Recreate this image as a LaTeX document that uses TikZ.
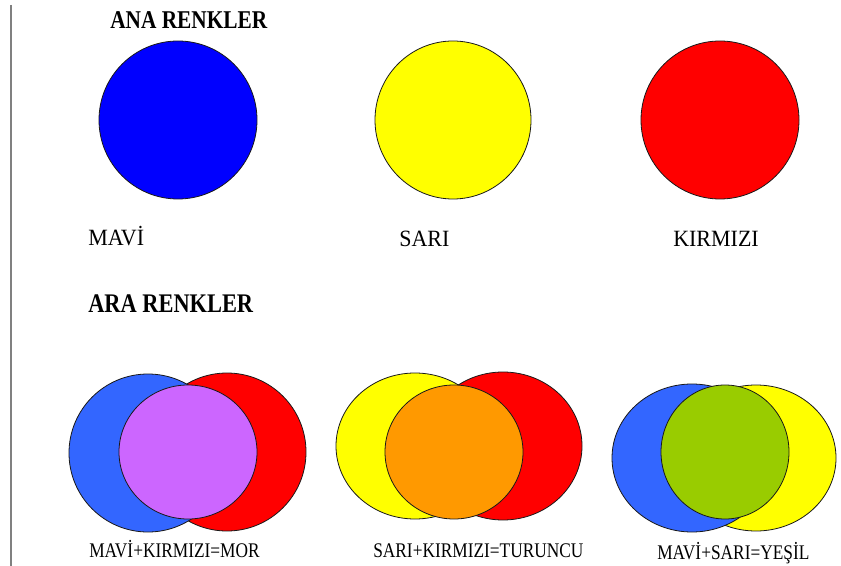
\documentclass[tikz,border=0pt]{standalone}
\usepackage{graphicx}
\usepackage{fontspec}
\setmainfont{Liberation Serif}
\definecolor{pblue}{RGB}{0,0,255}
\definecolor{pyellow}{RGB}{255,255,0}
\definecolor{pred}{RGB}{255,0,0}
\definecolor{sblue}{RGB}{51,102,255}
\definecolor{spurple}{RGB}{204,102,255}
\definecolor{sorange}{RGB}{255,153,0}
\definecolor{sgreen}{RGB}{153,204,0}
\newcommand{\tallA}[1]{\scalebox{1}[1.2]{#1}}
\newcommand{\tallB}[1]{\scalebox{1}[1.06]{#1}}
\begin{document}
\begin{tikzpicture}[x=0.75pt,y=-0.75pt,
  disc/.style={draw=black!80!gray,line width=0.6pt},
  titletext/.style={font=\fontsize{16}{18}\selectfont\bfseries,inner sep=0pt,anchor=base west},
  colortext/.style={font=\fontsize{16.5}{18}\selectfont,inner sep=0pt,anchor=base west},
  mixtext/.style={font=\fontsize{13}{15}\selectfont,inner sep=0pt,anchor=base west}]
\useasboundingbox (0,0) rectangle (841,566);
\fill[white] (0,0) rectangle (841,566);
% left rule
\draw[gray,line width=1.5pt] (11,5) -- (11,566);
% primary
\node[titletext] (t1) at (110,29) {\tallA{ANA RENKLER}};
\draw[disc,fill=pblue] (178,120) ellipse [x radius=79,y radius=79];
\draw[disc,fill=pyellow] (453,120) ellipse [x radius=78,y radius=79];
\draw[disc,fill=pred] (720,120) ellipse [x radius=79,y radius=79];
\node[colortext] (l1) at (88,246) {\tallB{MAVİ}};
\node[colortext] (l2) at (399,247) {\tallB{SARI}};
\node[colortext] (l3) at (673,247) {\tallB{KIRMIZI}};
% secondary
\node[titletext,font=\fontsize{16.8}{18}\selectfont\bfseries] (t2) at (88,312) {\tallA{ARA RENKLER}};
% group 1
\draw[disc,fill=pred] (227,452) ellipse [x radius=79,y radius=79];
\draw[disc,fill=sblue] (148,453) ellipse [x radius=79,y radius=79];
\draw[disc,fill=spurple] (188,452) ellipse [x radius=69,y radius=67];
% group 2
\draw[disc,fill=pred] (503,446) ellipse [x radius=79,y radius=74];
\draw[disc,fill=pyellow] (415,446) ellipse [x radius=79,y radius=73];
\draw[disc,fill=sorange] (454,452) ellipse [x radius=69,y radius=67];
% group 3
\draw[disc,fill=pyellow] (756,458) ellipse [x radius=80,y radius=73];
\draw[disc,fill=sblue] (692,458) ellipse [x radius=80,y radius=74];
\draw[disc,fill=sgreen] (725,452) ellipse [x radius=64,y radius=67];
\node[mixtext] (m1) at (89,557) {\tallA{MAVİ+KIRMIZI=MOR}};
\node[mixtext] (m2) at (373,557) {\tallA{SARI+KIRMIZI=TURUNCU}};
\node[mixtext] (m3) at (657,559) {\tallA{MAVİ+SARI=YEŞİL}};
\end{tikzpicture}
\end{document}
